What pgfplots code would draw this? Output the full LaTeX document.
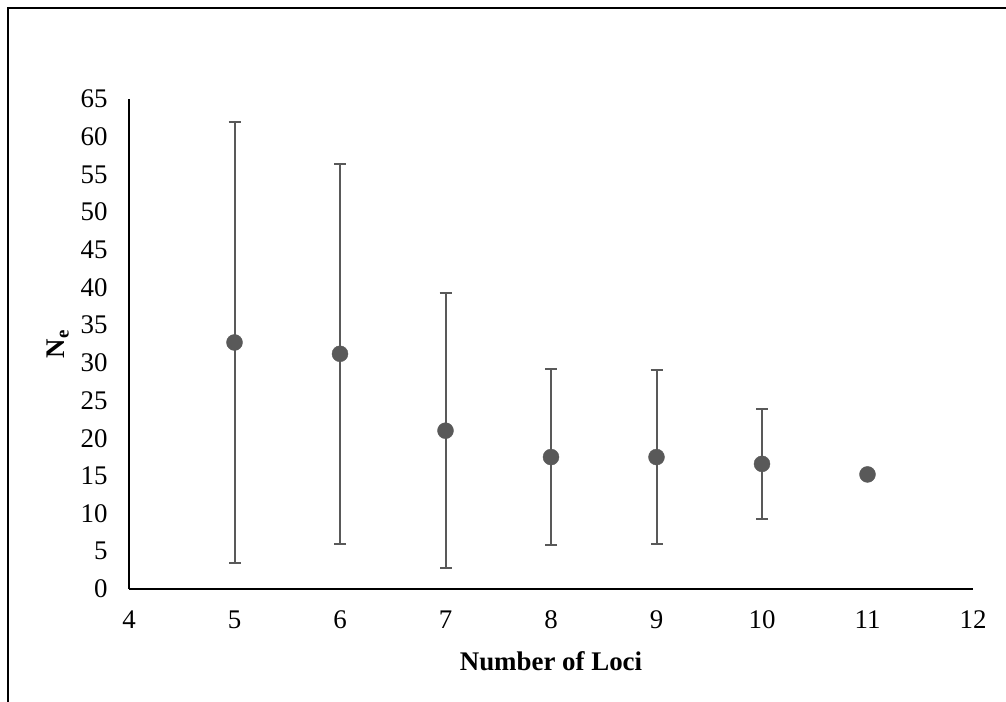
\documentclass[border=0pt]{standalone}
\usepackage{fontspec}
\setmainfont{Liberation Serif}
\usepackage{pgfplots}
\usepackage{pgfplotstable}
\pgfplotsset{compat=1.18}
\definecolor{pt}{RGB}{89,89,89}
\pgfplotstableread{
x y e
5 32.7 29.2
6 31.2 25.2
7 21.0 18.2
8 17.5 11.7
9 17.5 11.5
10 16.6 7.3
11 15.2 0
}\netable
\begin{document}
\begin{tikzpicture}[x=1bp,y=1bp]
\useasboundingbox (0,0) rectangle (1006,702);
\draw[line width=2bp] (8,0) -- (8,694) -- (1006,694);
\begin{axis}[
  at={(129bp,113bp)}, anchor=south west,
  scale only axis, width=844bp, height=490bp,
  xmin=4, xmax=12, ymin=0, ymax=65,
  xtick={4,...,12}, ytick={0,5,...,65},
  axis x line*=bottom, axis y line*=left,
  axis line style={line width=1.5bp, -, black},
  major tick length=0pt,
  clip=false,
  font=\fontsize{27}{32}\selectfont,
  /pgf/number format/assume math mode=true,
  xticklabel style={yshift=-18bp},
  yticklabel style={xshift=-18bp},
  xlabel={\textbf{Number of Loci}},
  ylabel={\textbf{N\textsubscript{e}}},
  xlabel style={at={(axis description cs:0.5,-0.147)}, anchor=center},
  ylabel style={at={(axis description cs:-0.0841,0.5)}, anchor=center},
]
\addplot[only marks, mark=*, mark size=8bp, color=pt, mark options={fill=pt, draw=pt},
  error bars/.cd, y dir=both, y explicit,
  error mark=-,
  error bar style={line width=2bp, pt},
  error mark options={rotate=90, line width=2bp, mark size=6bp, pt}]
  table[x=x, y=y, y error=e] {\netable};
\end{axis}
\end{tikzpicture}
\end{document}
